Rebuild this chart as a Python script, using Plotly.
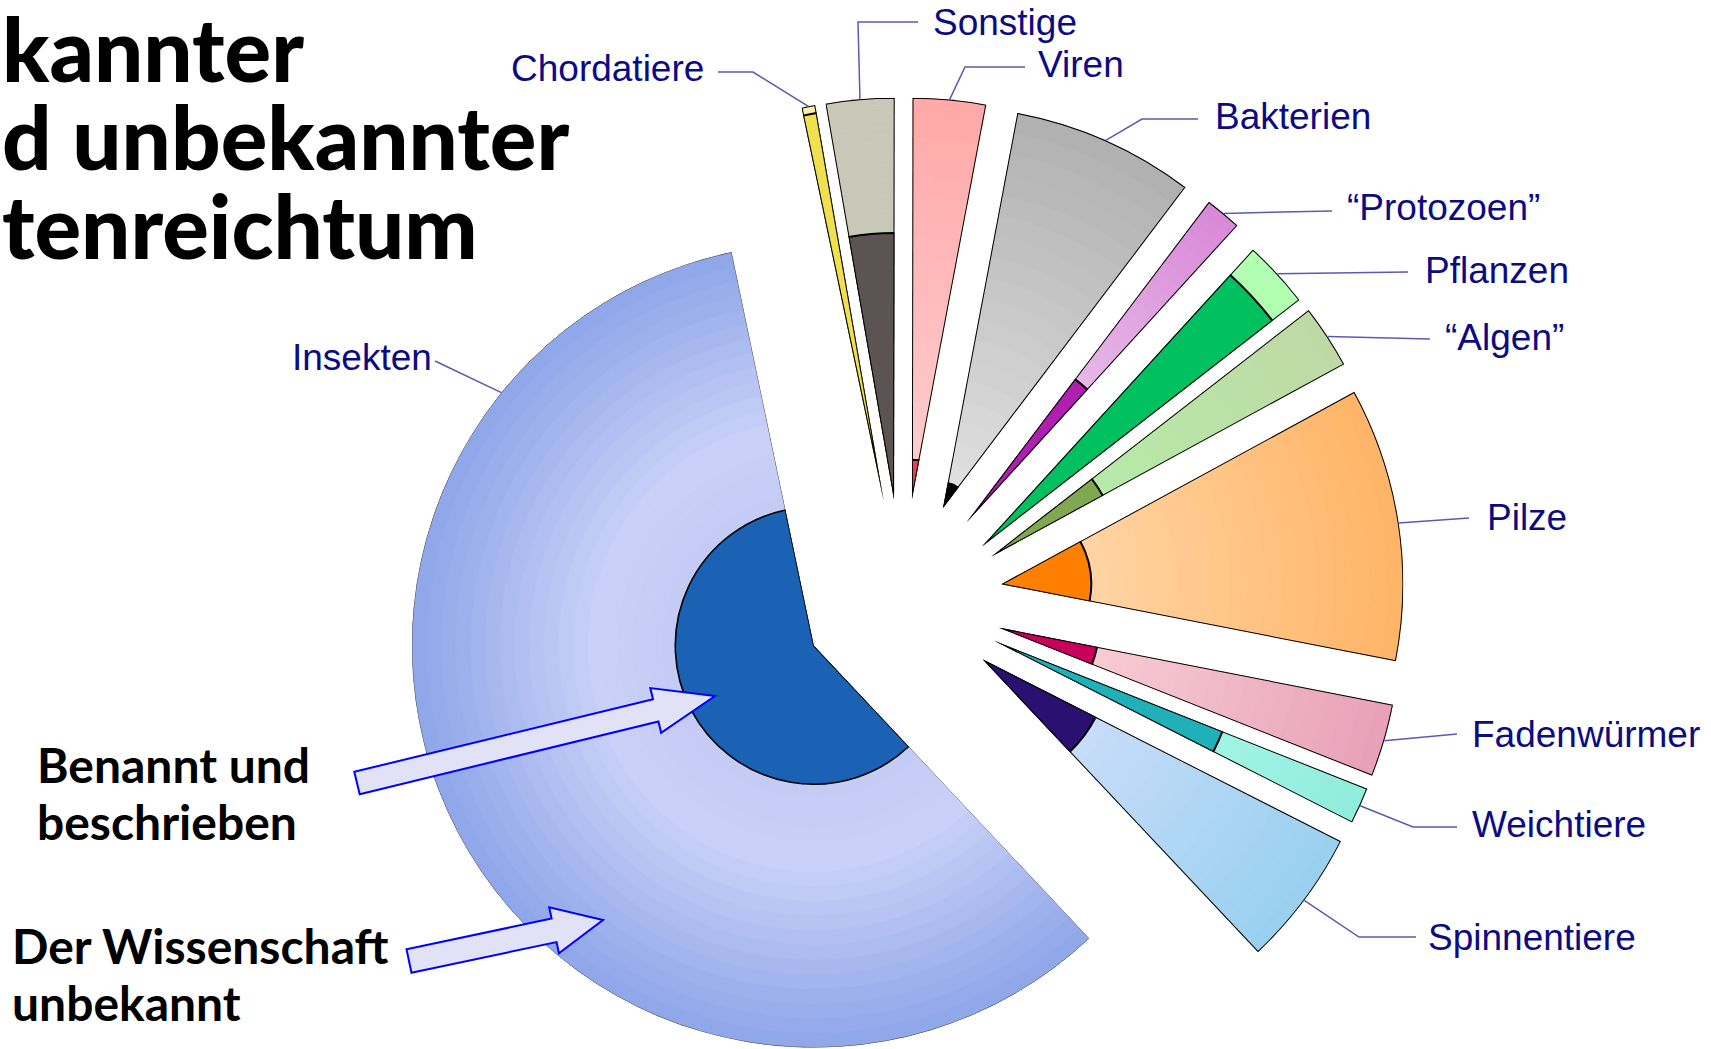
import math
import plotly.graph_objects as go

# ---------------- data ----------------
kategorien = ["Chordatiere", "Sonstige", "Viren", "Bakterien", "Protozoen", "Pflanzen",
              "Algen", "Pilze", "Fadenwürmer", "Weichtiere", "Spinnentiere", "Insekten"]
beschriftung = ["Chordatiere", "Sonstige", "Viren", "Bakterien", "\u201cProtozoen\u201d", "Pflanzen",
                "\u201cAlgen\u201d", "Pilze", "Fadenwürmer", "Weichtiere", "Spinnentiere", "Insekten"]
# geschätzte Gesamtzahl der Arten (Tausend) -> Winkel des Segments
arten_geschaetzt = [75, 375, 400, 1000, 200, 370, 350, 1500, 400, 200, 750, 8000]
# davon benannt und beschrieben (Tausend) -> Fläche des inneren Segments
arten_benannt = [72, 165, 4, 4, 40, 310, 35, 75, 25, 75, 75, 950]
titel_zeilen = ["kannter", "d unbekannter", "tenreichtum"]

# ---------------- styles ----------------
farbe_benannt = ["#f0e050", "#5c5452", "#f03c50", "#000000", "#b020b0", "#00c060",
                 "#80a850", "#ff8000", "#c8005c", "#20b0b8", "#2a1070", "#1c62b4"]
verlauf_unbekannt = [
    [(0, "#f8f0a8"), (1, "#f8f0a8")],
    [(0, "#c8c8b8"), (1, "#c8c8b8")],
    [(0, "#ffcccc"), (1, "#ffa8a8")],
    [(0, "#e0e0e0"), (1, "#b0b0b0")],
    [(0, "#e6b8e6"), (1, "#d888d8")],
    [(0, "#b0ffb0"), (1, "#b0ffb0")],
    [(0, "#b6eaa8"), (1, "#bfd9a6")],
    [(0, "#ffd4a4"), (1, "#ffb466")],
    [(0, "#f8ccd4"), (1, "#e8a0b8")],
    [(0, "#a0f4e4"), (1, "#90ecdc")],
    [(0, "#c8dcf8"), (1, "#98d0f0")],
    [(0, "#c3cbf5"), (0.3, "#c9d1f8"), (1, "#8ea5e8")],
]
rand_farbe = ["black"] * 11 + ["#555555"]
rand_breite = [2] * 11 + [1]

W, H = 1711, 1049
CX, CY = 902.5, 599.4      # pie centre (px)
RADIUS = 402               # px
PULL = 100                 # px, explosion of every slice
ROTATION = 101.8           # start angle (deg, ccw from east), slices run clockwise
N_BAND = 18
# small extra displacement of single slices (px)
versatz = [(0, 0)] * 5 + [(6, 15), (5, 12)] + [(0, 0)] * 5

label_font = dict(family="Liberation Sans, Arial, sans-serif", size=37, color="#0b0b85")
leader_color = "#5a5ab4"
# label text position (px) and anchor; leader elbows (px)
label_pos = [(706, 69, "right"), (931, 22, "left"), (1036, 65, "left"), (1213, 117, "left"),
             (1345, 208, "left"), (1423, 270, "left"), (1443, 338, "left"), (1485, 517, "left"),
             (1470, 734, "left"), (1470, 824, "left"), (1426, 937, "left"), (434, 358, "right")]
leader_pts = [[(753, 72), (718, 72)], [(858, 22), (918, 22)], [(965, 67), (1025, 67)],
              [(1142, 119), (1198, 119)], [(1332, 211)], [(1408, 272)], [(1430, 339)],
              [(1469, 518)], [(1457, 734)], [(1413, 827), (1457, 827)],
              [(1359, 937), (1416, 937)], [(435, 361)]]
leader_angle_override = {11: 141.0}


def hex2rgb(h):
    h = h.lstrip("#")
    return tuple(int(h[i:i + 2], 16) for i in (0, 2, 4))


def grad_color(stops, t):
    for (t0, c0), (t1, c1) in zip(stops[:-1], stops[1:]):
        if t <= t1 or (t1 == stops[-1][0]):
            f = 0 if t1 == t0 else min(max((t - t0) / (t1 - t0), 0), 1)
            a, b = hex2rgb(c0), hex2rgb(c1)
            return "rgb(%d,%d,%d)" % tuple(round(a[k] + (b[k] - a[k]) * f) for k in range(3))
    return stops[-1][1]


def sector_bbox(sector):
    s0, s1 = sector
    arc = s1 - s0
    a0 = s0 % 360
    a1 = a0 + arc
    ax0, ay0 = math.cos(math.radians(a0)), math.sin(math.radians(a0))
    ax1, ay1 = math.cos(math.radians(a1)), math.sin(math.radians(a1))
    if (a0 <= 90 and a1 >= 90) or (a0 > 90 and a1 >= 450):
        y1 = 1
    elif ay0 <= 0 and ay1 <= 0:
        y1 = 0
    else:
        y1 = max(ay0, ay1)
    if (a0 <= 180 and a1 >= 180) or (a0 > 180 and a1 >= 540):
        x0 = -1
    elif ax0 >= 0 and ax1 >= 0:
        x0 = 0
    else:
        x0 = min(ax0, ax1)
    if (a0 <= 270 and a1 >= 270) or (a0 > 270 and a1 >= 630):
        y0 = -1
    elif ay0 >= 0 and ay1 >= 0:
        y0 = 0
    else:
        y0 = min(ay0, ay1)
    if a1 >= 360:
        x1 = 1
    elif ax0 <= 0 and ax1 <= 0:
        x1 = 0
    else:
        x1 = max(ax0, ax1)
    return [x0, y0, x1, y1]


def px(x, y):
    return x / W, 1 - y / H


fig = go.Figure()
layout_polars = {}
shapes = []
annotations = []

total = sum(arten_geschaetzt)
cum = 0
for i, name in enumerate(kategorien):
    g = arten_geschaetzt[i]
    b = arten_benannt[i]
    span = 360.0 * g / total
    start = ROTATION - 360.0 * cum / total
    end = start - span
    mid = (start + end) / 2
    cum += g
    ax = CX + PULL * math.cos(math.radians(mid)) + versatz[i][0]
    ay = CY - PULL * math.sin(math.radians(mid)) + versatz[i][1]
    sector = [end, start]
    bb = sector_bbox(sector)
    dx0 = max(0.0, (ax + RADIUS * bb[0]) / W)
    dx1 = min(1.0, (ax + RADIUS * bb[2]) / W)
    dy0 = max(0.0, 1 - (ay - RADIUS * bb[1]) / H)
    dy1 = min(1.0, 1 - (ay - RADIUS * bb[3]) / H)
    sp = "polar" if i == 0 else "polar%d" % (i + 1)
    layout_polars[sp] = dict(
        domain=dict(x=[dx0, dx1], y=[dy0, dy1]),
        sector=sector, hole=0, bgcolor="rgba(0,0,0,0)", barmode="overlay",
        radialaxis=dict(visible=False, range=[0, 1], showgrid=False, showline=False,
                        showticklabels=False, ticks=""),
        angularaxis=dict(visible=False, rotation=0, direction="counterclockwise",
                         showgrid=False, showline=False, showticklabels=False, ticks=""),
    )
    rk = math.sqrt(b / g)
    # unknown part (radial colour bands)
    starts, widths, cols = [], [], []
    for k in range(N_BAND):
        r0 = rk + (1 - rk) * k / N_BAND
        r1 = rk + (1 - rk) * (k + 1) / N_BAND
        starts.append(r0)
        widths.append(r1 - r0)
        cols.append(grad_color(verlauf_unbekannt[i], (k + 0.5) / N_BAND))
    fig.add_trace(go.Barpolar(r=widths, base=starts, theta=[mid] * N_BAND, width=[span] * N_BAND,
                              marker=dict(color=cols, line=dict(color=cols, width=0.8)),
                              subplot=sp, hoverinfo="skip", showlegend=False))
    # outline of the whole slice
    fig.add_trace(go.Barpolar(r=[1], base=[0], theta=[mid], width=[span],
                              marker=dict(color="rgba(0,0,0,0)",
                                          line=dict(color=rand_farbe[i], width=rand_breite[i])),
                              subplot=sp, hoverinfo="skip", showlegend=False))
    # known part
    fig.add_trace(go.Barpolar(r=[rk], base=[0], theta=[mid], width=[span], name=name,
                              marker=dict(color=farbe_benannt[i],
                                          line=dict(color="black", width=1.6 if i == 11 else 2)),
                              subplot=sp, showlegend=False))
    fig.add_trace(go.Scatterpolar(r=[0], theta=[mid], mode="markers", cliponaxis=False,
                                  marker=dict(size=1, opacity=0), subplot=sp,
                                  hoverinfo="skip", showlegend=False))
    # label + leader line
    la = leader_angle_override.get(i, mid)
    sx = ax + RADIUS * math.cos(math.radians(la))
    sy = ay - RADIUS * math.sin(math.radians(la))
    pts = [(sx, sy)] + leader_pts[i]
    path = "M " + " L ".join("%f,%f" % px(x, y) for x, y in pts)
    shapes.append(dict(type="path", xref="paper", yref="paper", path=path,
                       line=dict(color=leader_color, width=1.5)))
    tx, ty, anc = label_pos[i]
    annotations.append(dict(text=beschriftung[i], x=px(tx, ty)[0], y=px(tx, ty)[1],
                            xref="paper", yref="paper", xanchor=anc, yanchor="middle",
                            showarrow=False, font=label_font))


# block arrows
def arrow_path(tail, tip, sw, hw, hl):
    ux, uy = tip[0] - tail[0], tip[1] - tail[1]
    L = math.hypot(ux, uy)
    ux, uy = ux / L, uy / L
    nx, ny = -uy, ux
    bx, by = tip[0] - ux * hl, tip[1] - uy * hl
    p = [(tail[0] + nx * sw, tail[1] + ny * sw), (bx + nx * sw, by + ny * sw),
         (bx + nx * hw, by + ny * hw), tip, (bx - nx * hw, by - ny * hw),
         (bx - nx * sw, by - ny * sw), (tail[0] - nx * sw, tail[1] - ny * sw)]
    return "M " + " L ".join("%f,%f" % px(x, y) for x, y in p) + " Z"


for tail, tip, sw, hw, hl in [((357, 783), (715, 696), 11.5, 23, 61),
                              ((409, 961), (603, 920), 12, 23.5, 50)]:
    shapes.append(dict(type="path", xref="paper", yref="paper", path=arrow_path(tail, tip, sw, hw, hl),
                       fillcolor="#e2e2f6", line=dict(color="#0000ff", width=2)))

# title (only the part that is visible in the original), one text block with tight line pitch
titel_text = "<br>".join('<span style="font-size:87px">%s</span>' % t for t in titel_zeilen)
annotations.append(dict(text=titel_text, x=0, y=px(0, 137)[1], xref="paper", yref="paper",
                        xanchor="left", yanchor="middle", align="left", showarrow=False,
                        font=dict(family="Lato, sans-serif", size=68, color="black", weight=900)))

side_font = dict(family="Lato, sans-serif", size=48, color="black", weight=700)
for txt, xl, yc in [("Benannt und", 35, 764), ("beschrieben", 35, 821),
                    ("Der Wissenschaft", 10, 945), ("unbekannt", 10, 1002)]:
    annotations.append(dict(text=txt, x=px(xl, yc)[0], y=px(xl, yc)[1], xref="paper", yref="paper",
                            xanchor="left", yanchor="middle", showarrow=False, font=side_font))

fig.update_layout(width=W, height=H, autosize=False, margin=dict(l=0, r=0, t=0, b=0),
                  paper_bgcolor="white", plot_bgcolor="white", showlegend=False,
                  shapes=shapes, annotations=annotations, **layout_polars)

fig.write_html("out.html", config={"displayModeBar": False},
               post_script="document.body.style.margin='0px';")
